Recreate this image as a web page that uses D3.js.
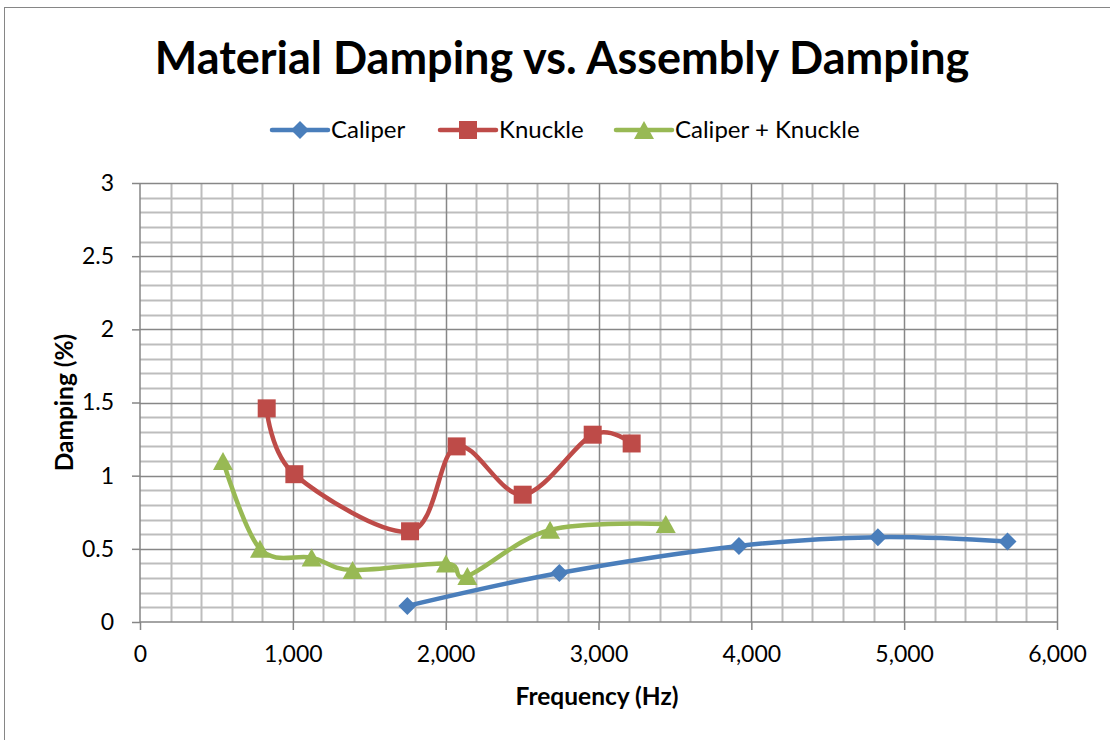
<!DOCTYPE html>
<html>
<head>
<meta charset="utf-8">
<script src="https://cdn.jsdelivr.net/npm/d3@7.9.0/dist/d3.min.js"></script>
<style>
  body { margin: 0; background: #fff; }
  text { font-family: Lato, "Open Sans", sans-serif; fill: #000; }
</style>
</head>
<body>
<svg id="chart" width="1110" height="740"></svg>
<script>
// series values
const caliperFreq = [1749, 2744, 3919, 4828, 5676];
const caliperDamp = [0.11, 0.335, 0.52, 0.58, 0.55];

const knuckleFreq = [829, 1010, 1767, 2072, 2504, 2962, 3217];
const knuckleDamp = [1.46, 1.01, 0.62, 1.20, 0.87, 1.28, 1.22];

const comboFreq = [543, 785, 1123, 1391, 2002, 2142, 2683, 3440];
const comboDamp = [1.10, 0.50, 0.44, 0.355, 0.40, 0.315, 0.63, 0.67];

const seriesNames = ['Caliper', 'Knuckle', 'Caliper + Knuckle'];
const seriesColors = ['#4a7ebb', '#be4b48', '#98b954'];

const xTicks = [0, 1000, 2000, 3000, 4000, 5000, 6000];
const yTicks = [0, 0.5, 1, 1.5, 2, 2.5, 3];

const series = [
    { name: seriesNames[0], color: seriesColors[0], shape: 'diamond',
      points: caliperFreq.map((f, i) => ({ f, d: caliperDamp[i] })) },
    { name: seriesNames[1], color: seriesColors[1], shape: 'square',
      points: knuckleFreq.map((f, i) => ({ f, d: knuckleDamp[i] })) },
    { name: seriesNames[2], color: seriesColors[2], shape: 'triangle',
      points: comboFreq.map((f, i) => ({ f, d: comboDamp[i] })) },
];

const svg = d3.select('#chart');

const plot = { left: 140, right: 1057, top: 183, bottom: 622 };

const xScale = d3.scaleLinear().domain([0, 6000]).range([plot.left, plot.right]);
const yScale = d3.scaleLinear().domain([0, 3]).range([plot.bottom, plot.top]);

// marker shapes (Excel style)
const shapes = {
    diamond: { draw(ctx) { const r = 9; ctx.moveTo(0, -r); ctx.lineTo(r, 0); ctx.lineTo(0, r); ctx.lineTo(-r, 0); ctx.closePath(); } },
    square: { draw(ctx) { const r = 9; ctx.rect(-r, -r, 2 * r, 2 * r); } },
    triangle: { draw(ctx) { const w = 10, h = 9; ctx.moveTo(0, -h); ctx.lineTo(w, h); ctx.lineTo(-w, h); ctx.closePath(); } },
};

// outer chart frame
svg.append('rect')
    .attr('x', 4.5).attr('y', 7.5)
    .attr('width', 1200).attr('height', 800)
    .attr('fill', 'none')
    .attr('stroke', '#868686')
    .attr('stroke-width', 1);

// minor gridlines
const minorX = d3.range(0, 6001, 200).filter(v => v % 1000 !== 0);
const minorY = d3.range(0, 31).map(v => v / 10).filter((v, i) => i % 5 !== 0);

const grid = svg.append('g').attr('class', 'grid');

grid.selectAll('line.minor-x')
    .data(minorX)
    .join('line')
    .attr('class', 'minor-x')
    .attr('x1', d => Math.round(xScale(d)) + 0.5).attr('x2', d => Math.round(xScale(d)) + 0.5)
    .attr('y1', plot.top).attr('y2', plot.bottom)
    .attr('stroke', '#bdbdbd').attr('stroke-width', 2);

grid.selectAll('line.minor-y')
    .data(minorY)
    .join('line')
    .attr('class', 'minor-y')
    .attr('x1', plot.left).attr('x2', plot.right)
    .attr('y1', d => Math.round(yScale(d)) + 0.5).attr('y2', d => Math.round(yScale(d)) + 0.5)
    .attr('stroke', '#bdbdbd').attr('stroke-width', 2);

// major gridlines
grid.selectAll('line.major-x')
    .data(xTicks.slice(1))
    .join('line')
    .attr('class', 'major-x')
    .attr('x1', d => Math.round(xScale(d)) + 0.5).attr('x2', d => Math.round(xScale(d)) + 0.5)
    .attr('y1', plot.top).attr('y2', plot.bottom)
    .attr('stroke', '#878787').attr('stroke-width', 1.5);

grid.selectAll('line.major-y')
    .data(yTicks.slice(1))
    .join('line')
    .attr('class', 'major-y')
    .attr('x1', plot.left).attr('x2', plot.right)
    .attr('y1', d => Math.round(yScale(d)) + 0.5).attr('y2', d => Math.round(yScale(d)) + 0.5)
    .attr('stroke', '#878787').attr('stroke-width', 1.5);

// axes
const xAxis = d3.axisBottom(xScale)
    .tickValues(xTicks)
    .tickFormat(d3.format(','))
    .tickSize(8)
    .tickPadding(16);

const yAxis = d3.axisLeft(yScale)
    .tickValues(yTicks)
    .tickFormat(d => String(d))
    .tickSize(8)
    .tickPadding(18);

const gx = svg.append('g')
    .attr('transform', `translate(0, ${plot.bottom})`)
    .call(xAxis);

const gy = svg.append('g')
    .attr('transform', `translate(${plot.left}, 0)`)
    .call(yAxis);

[gx, gy].forEach(g => {
    g.selectAll('path.domain').attr('stroke', '#868686').attr('stroke-width', 1.5);
    g.selectAll('.tick line').attr('stroke', '#868686').attr('stroke-width', 1.5);
    g.selectAll('.tick text').style('font-size', '23px').attr('fill', '#000');
});
gy.select('path.domain').attr('d', `M0,${plot.top}V${plot.bottom}`);
gx.select('path.domain').attr('d', `M${plot.left},0H${plot.right}`);

// smoothed lines
const line = d3.line()
    .x(d => xScale(d.f))
    .y(d => yScale(d.d))
    .curve(d3.curveCatmullRom.alpha(0));

const layers = svg.append('g').attr('class', 'series');

layers.selectAll('path.series-line')
    .data(series)
    .join('path')
    .attr('class', 'series-line')
    .attr('d', s => line(s.points))
    .attr('fill', 'none')
    .attr('stroke', s => s.color)
    .attr('stroke-width', 4.5)
    .attr('stroke-linejoin', 'round')
    .attr('stroke-linecap', 'round');

series.forEach(s => {
    layers.append('g')
        .selectAll('path')
        .data(s.points)
        .join('path')
        .attr('d', d3.symbol().type(shapes[s.shape]))
        .attr('transform', d => `translate(${xScale(d.f)}, ${yScale(d.d)})`)
        .attr('fill', s.color);
});

// title
svg.append('text')
    .attr('x', 562).attr('y', 74)
    .attr('text-anchor', 'middle')
    .style('font-size', '45px')
    .style('font-weight', 'bold')
    .text('Material Damping vs. Assembly Damping');

// axis titles
svg.append('text')
    .attr('x', 597).attr('y', 705)
    .attr('text-anchor', 'middle')
    .style('font-size', '24.5px')
    .style('font-weight', 'bold')
    .text('Frequency (Hz)');

svg.append('text')
    .attr('transform', `translate(73, ${(plot.top + plot.bottom) / 2}) rotate(-90)`)
    .attr('text-anchor', 'middle')
    .style('font-size', '24.5px')
    .style('font-weight', 'bold')
    .text('Damping (%)');

// legend
const legendX = [272, 440, 616];
const legend = svg.append('g').attr('class', 'legend');
series.forEach((s, i) => {
    const g = legend.append('g').attr('transform', `translate(${legendX[i]}, 130)`);
    g.append('line')
        .attr('x1', 0).attr('x2', 56)
        .attr('stroke', s.color).attr('stroke-width', 4.5)
        .attr('stroke-linecap', 'round');
    g.append('path')
        .attr('d', d3.symbol().type(shapes[s.shape]))
        .attr('transform', 'translate(28, 0)')
        .attr('fill', s.color);
    g.append('text')
        .attr('x', 59).attr('y', 8)
        .style('font-size', '24px')
        .text(s.name);
});
</script>
</body>
</html>
